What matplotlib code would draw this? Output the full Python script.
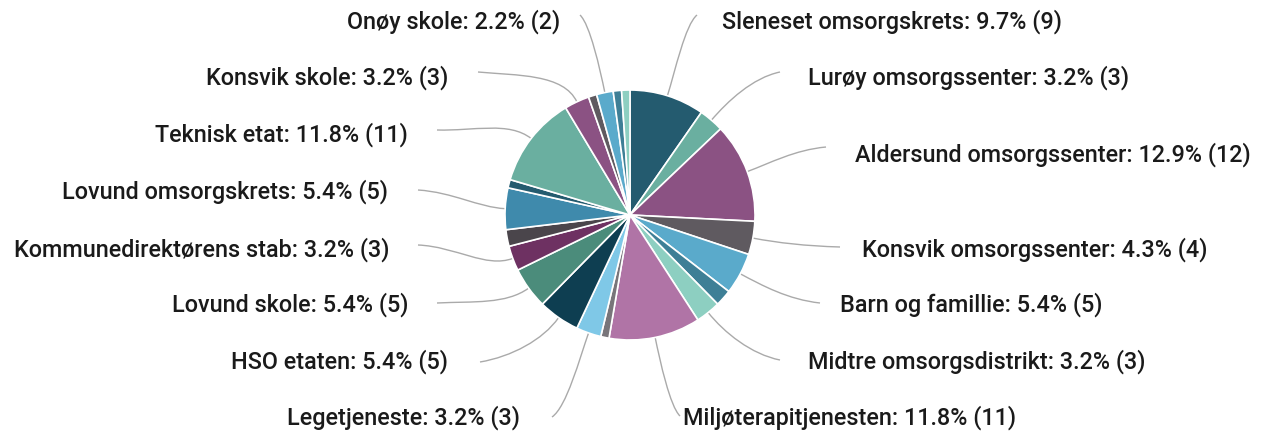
import matplotlib
matplotlib.use("Agg")
import matplotlib.pyplot as plt
from matplotlib.path import Path
from matplotlib.patches import PathPatch
import numpy as np

# ---- data ----
categories = [
    "Sleneset omsorgskrets", "Lurøy omsorgssenter", "Aldersund omsorgssenter",
    "Konsvik omsorgssenter", "Barn og famillie", "(ukjent 1)", "Midtre omsorgsdistrikt",
    "Miljøterapitjenesten", "(ukjent 2)", "Legetjeneste", "HSO etaten", "Lovund skole",
    "Kommunedirektørens stab", "(ukjent 3)", "Lovund omsorgskrets", "(ukjent 4)",
    "Teknisk etat", "Konsvik skole", "(ukjent 5)", "Onøy skole", "(ukjent 6)", "(ukjent 7)",
]
counts = [9, 3, 12, 4, 5, 2, 3, 11, 1, 3, 5, 5, 3, 2, 5, 1, 11, 3, 1, 2, 1, 1]
labelled = [True, True, True, True, True, False, True, True, False, True, True, True,
            True, False, True, False, True, True, False, True, False, False]

palette = ["#245b6f", "#6aafa0", "#8b5283", "#5f5a60", "#5aaacb", "#3e7f96", "#8dcfc1",
           "#b074a6", "#78757a", "#7fc8e7", "#0e3e51", "#4b8c7b", "#6e3162", "#4a454b",
           "#3f8aac"]

# ---- layout (pixels in a 1263x441 canvas) ----
W, H = 1263, 441
CX, CY, R = 630, 215, 125
label_pos = {
    0: (722, 22), 1: (808, 78), 2: (855, 155), 3: (862, 250), 4: (840, 305),
    6: (808, 362), 7: (683, 418), 9: (520, 418), 10: (448, 362), 11: (408, 305),
    12: (390, 250), 14: (388, 192), 16: (408, 135), 17: (448, 78), 19: (560, 22),
}
line_start = {
    0: (697, 15), 1: (780, 72), 2: (826, 147), 3: (840, 247), 4: (820, 303),
    6: (780, 360), 7: (680, 416), 9: (552, 417), 10: (480, 362), 11: (437, 303),
    12: (418, 245), 14: (418, 190), 16: (437, 130), 17: (478, 72), 19: (580, 15),
}

plt.rcParams["font.family"] = ["Roboto", "DejaVu Sans"]

fig = plt.figure(figsize=(W / 100, H / 100), dpi=100)
ax = fig.add_axes([0, 0, 1, 1])

colors = [palette[i % len(palette)] for i in range(len(counts))]
wedges, _ = ax.pie(counts, colors=colors, startangle=90, counterclock=False,
                   radius=1.0, center=(0, 0),
                   wedgeprops=dict(edgecolor="white", linewidth=1.2))

ax.set_xlim(-CX / R, (W - CX) / R)
ax.set_ylim(-(H - CY) / R, CY / R)
ax.set_aspect("auto")
ax.axis("off")


def to_data(px, py):
    return (px - CX) / R, (CY - py) / R


total = sum(counts)
cum = np.cumsum([0] + counts)
for i, (name, c) in enumerate(zip(categories, counts)):
    if not labelled[i]:
        continue
    mid = (cum[i] + c / 2) / total * 2 * np.pi  # clockwise from top
    ex, ey = np.sin(mid), np.cos(mid)
    tx, ty = to_data(*label_pos[i])
    ha = "left" if ex > 0 else "right"
    pct = 100 * c / total
    ax.text(tx, ty, f"{name}: {pct:.1f}% ({c})", ha=ha, va="center",
            fontsize=16.8, color="#1a1a1a", fontweight="medium")
    sx, sy = to_data(*line_start[i])
    dist = np.hypot(sx - ex, sy - ey)
    c1 = (sx + 0.4 * (ex - sx), sy + 0.12 * (ey - sy))
    c2 = (ex * (1 + 0.3 * dist), ey * (1 + 0.3 * dist))
    path = Path([(sx, sy), c1, c2, (ex, ey)],
                [Path.MOVETO, Path.CURVE4, Path.CURVE4, Path.CURVE4])
    ax.add_patch(PathPatch(path, facecolor="none", edgecolor="#aaaaaa", lw=1.0,
                           zorder=0.5))

fig.savefig("out.png", dpi=100)
